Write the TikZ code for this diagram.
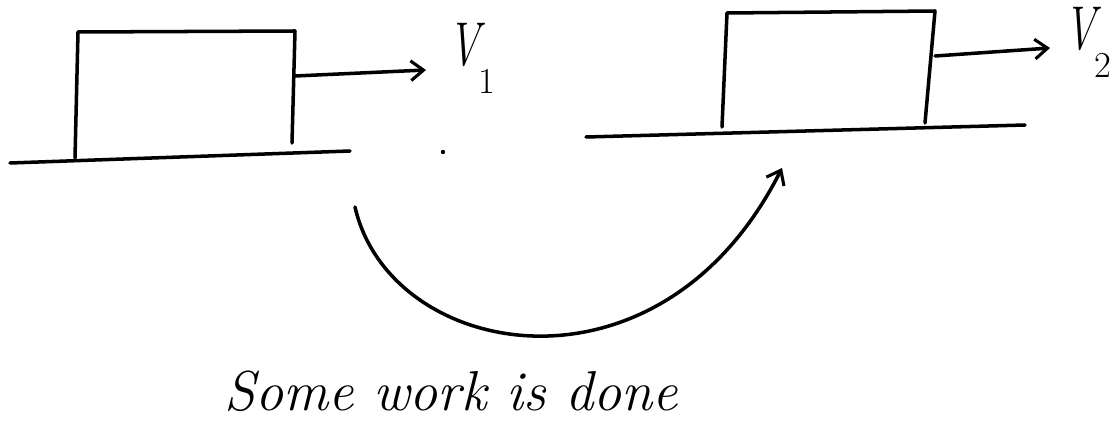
\documentclass[tikz,border=0pt]{standalone}
\usetikzlibrary{arrows.meta}
\newcommand{\vlab}[1]{\scalebox{0.7}[1]{\textit{V}}\kern-5pt\raisebox{-0.45em}{\fontsize{26}{32}\selectfont #1}}
\begin{document}
\begin{tikzpicture}[x=0.025cm,y=-0.025cm,
  ink/.style={line width=2.5pt,line cap=round,line join=round},
  arr/.style={ink,-{Straight Barb[length=9pt,width=14pt,line width=2.2pt]}},
  lbl/.style={font=\fontsize{44}{52}\selectfont}]
\useasboundingbox (0,0) rectangle (1114,427);
% left ground and box
\coordinate (g1a) at (10,163); \coordinate (g1b) at (350,151);
\draw[ink] (g1a) -- (g1b);
\coordinate (b1bl) at (75,158); \coordinate (b1tl) at (78,32);
\coordinate (b1tr) at (295,31); \coordinate (b1br) at (292,143);
\draw[ink] (b1bl) -- (b1tl) -- (b1tr) -- (b1br);
\coordinate (a1s) at (295,76); \coordinate (a1e) at (426,70);
\draw[arr] (a1s) -- (a1e);
\node[lbl,anchor=base west,inner sep=0] (v1) at (448,66) {\vlab{1}};
\coordinate (dot) at (443,152);
\fill (dot) circle (2.2);
% right ground and box
\coordinate (g2a) at (586,137); \coordinate (g2b) at (1025,125);
\draw[ink] (g2a) -- (g2b);
\coordinate (b2bl) at (722,127); \coordinate (b2tl) at (727,13);
\coordinate (b2tr) at (935,11); \coordinate (b2br) at (925,123);
\draw[ink] (b2bl) -- (b2tl) -- (b2tr) -- (b2br);
\coordinate (a2s) at (935,56); \coordinate (a2e) at (1050,48);
\draw[arr] (a2s) -- (a2e);
\node[lbl,anchor=base west,inner sep=0] (v2) at (1064,50) {\vlab{2}};
% curved arrow
\coordinate (cs) at (355,207); \coordinate (ce) at (782,168);
\draw[arr] (cs) .. controls (390,360) and (660,410) .. (ce);
% caption
\node[inner sep=0,anchor=base] (cap) at (451,410)
  {\fontsize{40}{48}\selectfont\itshape Some work is done};
\end{tikzpicture}
\end{document}
